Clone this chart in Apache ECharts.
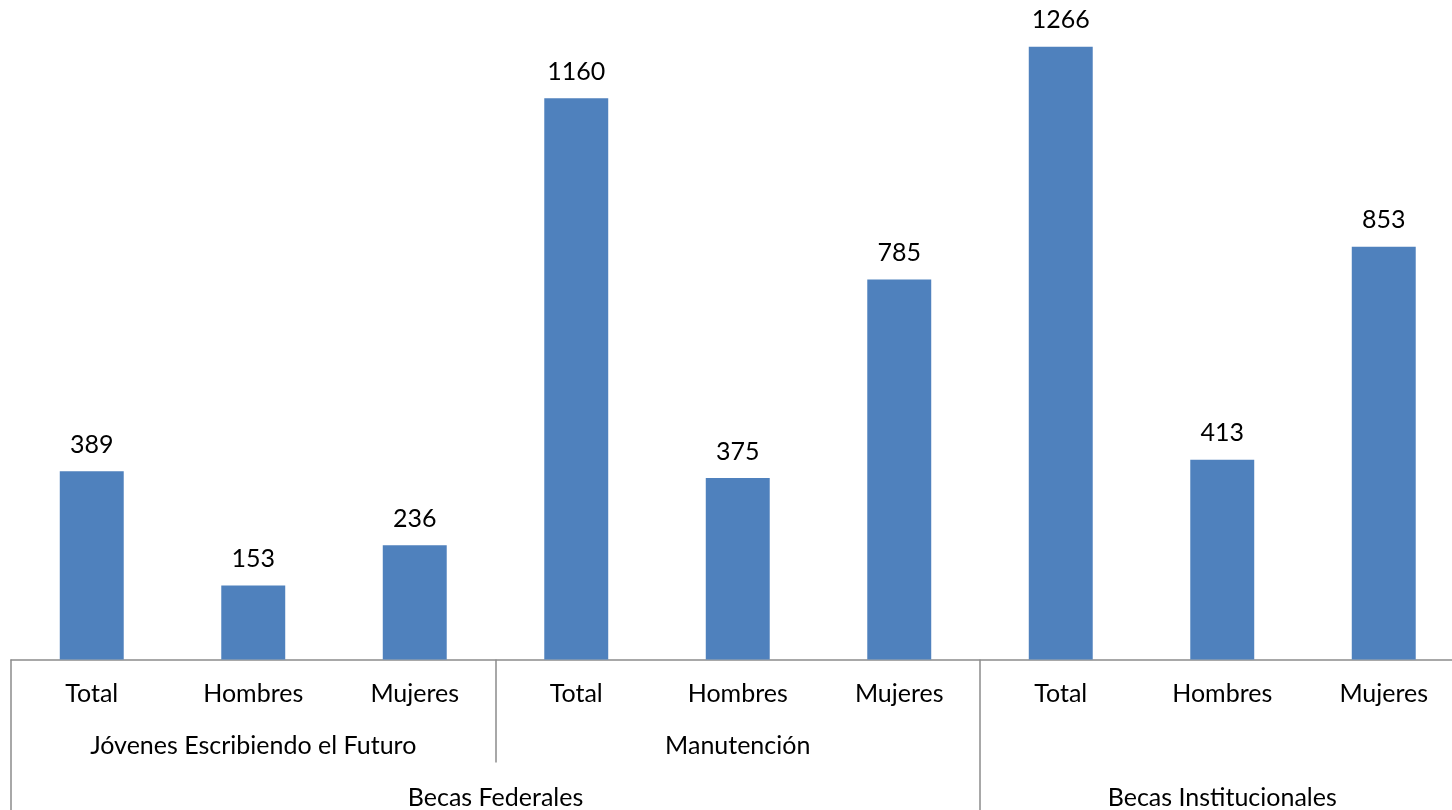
<!DOCTYPE html>
<html>
<head>
<meta charset="utf-8">
<script src="https://cdn.jsdelivr.net/npm/echarts@6/dist/echarts.min.js"></script>
<style>
html,body{margin:0;padding:0;background:#fff;}
#chart{width:1452px;height:810px;}
</style>
</head>
<body>
<div id="chart"></div>
<script>
// Data
const level1Labels = ["Total", "Hombres", "Mujeres", "Total", "Hombres", "Mujeres", "Total", "Hombres", "Mujeres"];
const level2Labels = ["Jóvenes Escribiendo el Futuro", "Manutención", ""];
const level3Labels = ["Becas Federales", "Becas Institucionales"];
const values = [389, 153, 236, 1160, 375, 785, 1266, 413, 853];
// group positions (in category units along the 9-bar axis)
const level2Centers = [1.5, 4.5, 7.5];
const level2Bounds = [3];
const level3Centers = [3, 7.5];
const level3Bounds = [0, 6, 9];

const FONT = 'Lato';
const FS = 25;
const GRAY = '#8c8c8c';

const chart = echarts.init(document.getElementById('chart'));
chart.setOption({
  animation: false,
  backgroundColor: '#ffffff',
  grid: { left: 11, width: 1453.5, top: -18, height: 677.5, containLabel: false, outerBoundsMode: 'none' },
  xAxis: [
    {
      type: 'category',
      data: level1Labels,
      position: 'bottom',
      axisLine: { show: true, lineStyle: { color: GRAY, width: 1.5 } },
      axisTick: { show: false },
      axisLabel: { color: '#000', fontFamily: FONT, fontSize: FS, margin: 22, interval: 0 },
      splitLine: { show: false }
    },
    {
      type: 'value', min: 0, max: 9, position: 'bottom', offset: 0,
      axisLine: { show: false },
      axisTick: { show: true, customValues: level2Bounds, length: 103, lineStyle: { color: GRAY, width: 1.5 } },
      axisLabel: {
        customValues: level2Centers, color: '#000', fontFamily: FONT, fontSize: FS, margin: 74,
        formatter: v => level2Labels[level2Centers.indexOf(v)] || ''
      },
      splitLine: { show: false }
    },
    {
      type: 'value', min: 0, max: 9, position: 'bottom', offset: 0,
      axisLine: { show: false },
      axisTick: { show: true, customValues: level3Bounds, length: 160, lineStyle: { color: GRAY, width: 1.5 } },
      axisLabel: {
        customValues: level3Centers, color: '#000', fontFamily: FONT, fontSize: FS, margin: 126,
        formatter: v => level3Labels[level3Centers.indexOf(v)] || ''
      },
      splitLine: { show: false }
    }
  ],
  yAxis: { type: 'value', min: 0, max: 1400, show: false, splitLine: { show: false } },
  series: [{
    type: 'bar',
    xAxisIndex: 0,
    data: values,
    barWidth: '39.6%',
    itemStyle: { color: '#4F81BD' },
    label: { show: true, position: 'top', distance: 14, color: '#000', fontFamily: FONT, fontSize: FS }
  }]
});
</script>
</body>
</html>
